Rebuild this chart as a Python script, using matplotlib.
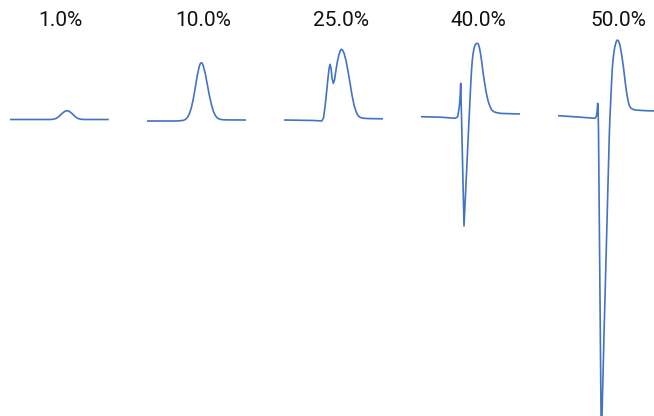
import matplotlib
matplotlib.use("Agg")
import matplotlib.pyplot as plt

plt.rcParams['font.family'] = ['Roboto', 'DejaVu Sans']

labels = ['1.0%', '10.0%', '25.0%', '40.0%', '50.0%']

# sample position across each panel, signal amplitude (baseline ~ 0)
x_1 = [0, 40, 43, 46, 49, 52, 55, 57, 59, 62, 65, 68, 71, 75, 98]
y_1 = [0.5, 0.5, 0.7, 1.5, 3.5, 6.5, 8.8, 9.3, 8.8, 6.5, 3.5, 1.5, 0.7, 0.5, 0.5]

x_10 = [0, 30, 36.3, 38.3, 40.3, 42.3, 44.3, 46.3, 48.3, 50.3, 52.3, 53.3, 54.3,
        55.3, 56.3, 58.3, 60.3, 62.3, 64.3, 66.3, 68.3, 70.3, 72.3, 75.3, 80, 99]
y_10 = [-1, -1, -0.4, 0.5, 2.3, 6, 12, 21, 32.6, 44.6, 53.8, 56.4, 57.3,
        56.6, 54, 46.2, 35.6, 24.9, 15.9, 8.9, 4.5, 2.1, 0.9, 0.3, 0.1, 0]

x_25 = [0, 30, 37.7, 39.5, 41, 42.5, 44, 45, 46, 47, 48, 49.3, 50.5, 52, 53.5,
        55, 56.3, 57.3, 58.5, 60, 62, 64, 66, 68, 70, 72, 74, 76, 79, 85, 98.7]
y_25 = [0, -0.5, -1, 2, 13, 27, 42, 51, 55.7, 52, 42, 36.7, 40, 50, 59,
        65.5, 69.5, 70.7, 70, 67, 59.5, 49, 37, 25, 15, 8.5, 4.5, 2.7, 1.8, 1.4, 1.2]

x_40 = [0, 20, 34, 36.5, 37.3, 38.5, 39.2, 39.7, 40.6, 41.5, 42.3, 43,
        45, 47.3, 48.5, 49.7, 50.5, 51.3, 52.2, 53, 54.2, 55.3, 56.3, 57.3,
        58.5, 59.6, 60.7, 62, 63, 64, 65, 66.2, 67.3, 69, 70.7, 73, 75.7, 80, 99]
y_40 = [3.3, 2.8, 1.7, 3, 6.7, 15, 25, 36.7, 0, -40, -75, -106,
        -64, -15, 10, 35, 49, 60, 67, 71.7, 75, 76.5, 76.7, 76,
        72, 66, 58.3, 48, 41, 35, 28.5, 23, 18.3, 13.5, 10, 8.2, 7.3, 6.6, 6]

x_50 = [0, 20, 37, 38.3, 39.1, 39.7, 40.1, 40.5, 41.3, 42.2, 43, 43.3,
        44, 46, 48, 50, 51.3, 52, 52.7, 53.5, 54.3, 55.1, 56, 57, 58.2, 59.3,
        60.3, 61.5, 62.7, 64, 65.3, 66.5, 67.7, 69, 70.3, 71.5, 73, 75, 78,
        88, 99]
y_50 = [4.3, 3, 1.7, 3.5, 8, 16.7, 12, -10, -100, -200, -290, -323,
        -296, -215, -140, -64, -15, 4, 18.3, 36, 51.7, 61, 68.3, 74, 78.3, 80,
        79.3, 76.5, 71, 63, 54, 44, 34, 25, 18, 14, 11.8, 10.6, 9.9,
        9.3, 9]

panels = [(x_1, y_1), (x_10, y_10), (x_25, y_25), (x_40, y_40), (x_50, y_50)]

fig = plt.figure(figsize=(6.54, 4.16), dpi=100)
W, H = 654, 416
lefts = [10, 147, 284, 421, 558]
title_x = [60.5, 203.5, 340.5, 478.5, 618]

for i, (xs, ys) in enumerate(panels):
    ax = fig.add_axes([lefts[i] / W, 0, 99 / W, 1])
    ax.plot(xs, ys, color='#4472C4', lw=1.2, solid_joinstyle='round')
    ax.set_xlim(0, 99)
    ax.set_ylim(-296, 120)
    ax.axis('off')
    fig.text(title_x[i] / W, 1 - 21 / H, labels[i], ha='center', va='center',
             fontsize=15, color='#111111')

fig.savefig('out.png', dpi=100)
